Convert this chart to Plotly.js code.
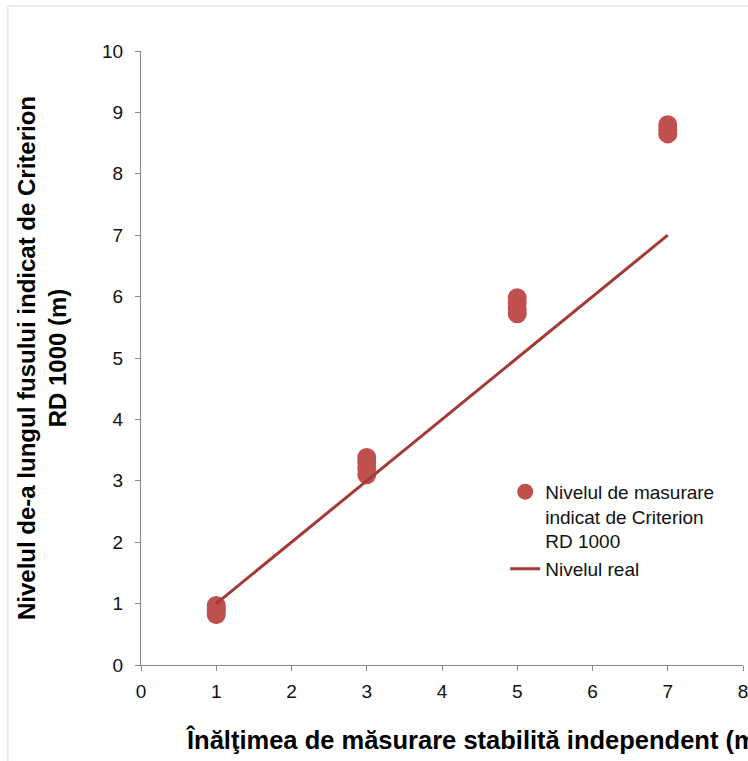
<!DOCTYPE html>
<html><head><meta charset="utf-8">
<script src="https://cdn.plot.ly/plotly-3.0.1.min.js"></script>
<style>html,body{margin:0;padding:0;background:#fff}#chart{width:748px;height:761px}</style>
</head><body><div id="chart"></div>
<script>
const measX = [1,1,1,1, 3,3,3,3, 5,5,5,5, 7,7,7];
const measY = [0.82,0.87,0.92,0.97, 3.1,3.2,3.3,3.38, 5.72,5.8,5.9,5.98, 8.65,8.72,8.8];
const realX = [1,7];
const realY = [1,7];
const measName = 'Nivelul de masurare<br>indicat de Criterion<br>RD 1000';
const realName = 'Nivelul real';
const xTitle = 'Înălţimea de măsurare stabilită independent (m)';
const yTitle = 'Nivelul de-a lungul fusului indicat de Criterion<br>RD 1000 (m)';

const font = 'Liberation Sans, Arial, sans-serif';
const data = [
  {x: measX, y: measY, mode: 'markers', type: 'scatter', name: measName,
   marker: {color: '#c0504d', size: 19}},
  {x: realX, y: realY, mode: 'lines', type: 'scatter', name: realName,
   line: {color: '#a33a36', width: 3}}
];
const layout = {
  width: 748, height: 761,
  margin: {l: 141, r: 5, t: 51, b: 96},
  paper_bgcolor: '#fff', plot_bgcolor: '#fff',
  font: {family: font, size: 18, color: '#000'},
  showlegend: true,
  legend: {x: 0.605, y: 0.313, xanchor: 'left', yanchor: 'top', valign: 'top',
           bgcolor: 'rgba(0,0,0,0)', font: {family: font, size: 19, color: '#111'},
           tracegroupgap: 0},
  xaxis: {range: [0, 8], dtick: 1, tick0: 0, showgrid: false, zeroline: false,
          showline: true, linecolor: '#888', linewidth: 1,
          ticks: 'outside', ticklen: 5, tickcolor: '#888', ticklabelstandoff: 4,
          ticklabeloverflow: 'allow',
          tickfont: {family: font, size: 19, color: '#111'}, fixedrange: true},
  yaxis: {range: [0, 10], dtick: 1, tick0: 0, showgrid: false, zeroline: false,
          showline: true, linecolor: '#888', linewidth: 1,
          ticks: 'outside', ticklen: 5, tickcolor: '#888', ticklabelstandoff: 8,
          tickfont: {family: font, size: 19, color: '#111'},
          title: {text: yTitle, font: {family: font, size: 24, color: '#000', weight: 'bold'}, standoff: 28}},
  annotations: [
    {text: '<b>' + xTitle + '</b>', xref: 'paper', yref: 'paper', x: 0.07, y: -0.122,
     xanchor: 'left', yanchor: 'middle', showarrow: false,
     font: {family: font, size: 25.5, color: '#000'}}
  ],
  shapes: [
    {type: 'rect', xref: 'paper', yref: 'paper', x0: -0.221, x1: 1.2, y0: -0.3, y1: 1.0733,
     line: {color: '#d9d9d9', width: 1}, fillcolor: 'rgba(0,0,0,0)', layer: 'below'}
  ]
};
Plotly.newPlot('chart', data, layout, {displayModeBar: false, staticPlot: true});
</script></body></html>
